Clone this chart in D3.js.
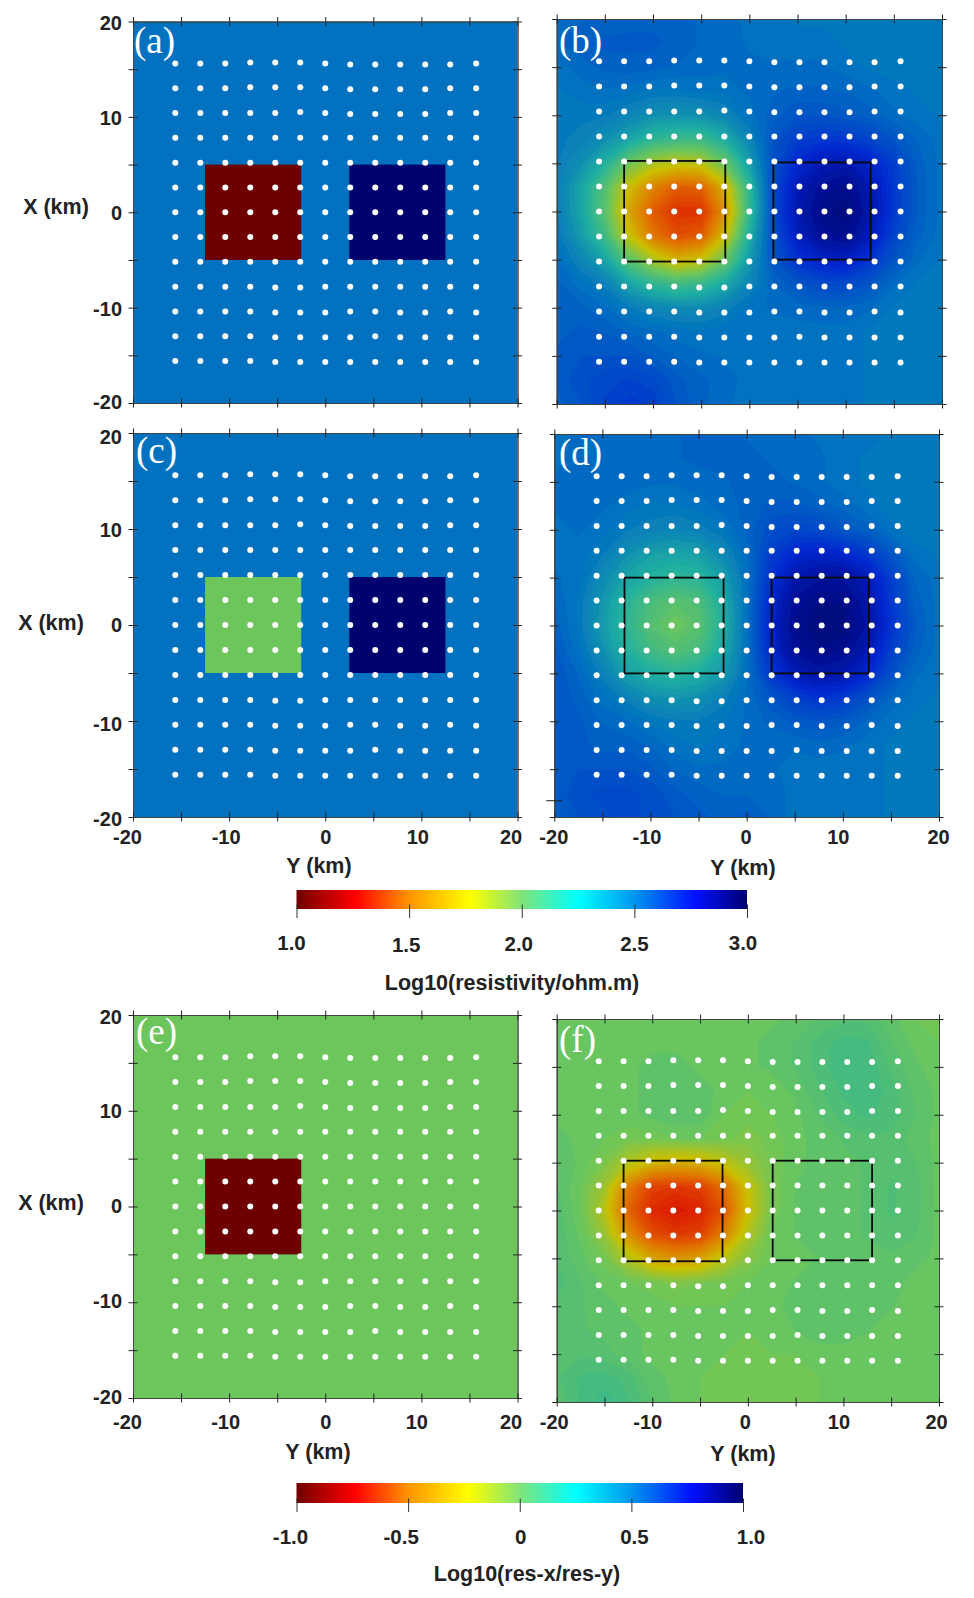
<!DOCTYPE html>
<html>
<head>
<meta charset="utf-8">
<style>
html, body { margin: 0; padding: 0; background: #fff; }
svg { display: block; }
text { font-family: "Liberation Sans", Arial, sans-serif; font-weight: bold; fill: #222; }
</style>
<script src="https://cdn.jsdelivr.net/npm/d3@7"></script>
</head>
<body>
<div id="map"></div>
<script>
// km positions of the ticks and the tick labels
var tickKm = [-20, -15, -10, -5, 0, 5, 10, 15, 20]
var labelKm = [-20, -10, 0, 10, 20]

// site positions, km. one row of X values per row of sites
var siteY = [-15.6, -13, -10.4, -7.8, -5.2, -2.6, 0, 2.6, 5.2, 7.8, 10.4, 13, 15.7]
var siteX = [
  [15.6, 15.6, 15.6, 15.7, 15.7, 15.7, 15.6, 15.5, 15.5, 15.5, 15.5, 15.5, 15.6],
  [13, 13, 13, 13.1, 13.1, 13.1, 13, 12.9, 12.9, 12.9, 12.9, 13, 13],
  [10.4, 10.4, 10.4, 10.4, 10.4, 10.5, 10.4, 10.3, 10.3, 10.3, 10.3, 10.4, 10.4],
  [7.8, 7.8, 7.8, 7.8, 7.8, 7.8, 7.8, 7.8, 7.8, 7.8, 7.8, 7.8, 7.8],
  [5.2, 5.2, 5.2, 5.2, 5.2, 5.2, 5.2, 5.2, 5.2, 5.2, 5.2, 5.2, 5.2],
  [2.6, 2.6, 2.6, 2.6, 2.6, 2.6, 2.6, 2.6, 2.6, 2.6, 2.6, 2.6, 2.6],
  [0, 0, 0, 0, 0, 0, 0, 0, 0, 0, 0, 0, 0],
  [-2.6, -2.6, -2.6, -2.6, -2.6, -2.6, -2.6, -2.6, -2.6, -2.6, -2.6, -2.6, -2.6],
  [-5.2, -5.2, -5.2, -5.2, -5.2, -5.2, -5.2, -5.2, -5.2, -5.2, -5.2, -5.2, -5.2],
  [-7.8, -7.8, -7.8, -7.8, -7.9, -7.9, -7.8, -7.8, -7.8, -7.8, -7.8, -7.8, -7.8],
  [-10.4, -10.4, -10.4, -10.4, -10.5, -10.5, -10.5, -10.4, -10.4, -10.5, -10.5, -10.4, -10.5],
  [-13, -13, -13, -13, -13.1, -13.1, -13.1, -13.1, -13, -13.1, -13.1, -13.1, -13.1],
  [-15.6, -15.6, -15.6, -15.6, -15.7, -15.7, -15.7, -15.7, -15.7, -15.7, -15.7, -15.7, -15.7]
]

// true models: background and the two blocks
var resBackground = 2.5
var ratioBackground = 0
var bodiesA = [{y0: -12.5, y1: -2.5, x0: -5, x1: 5, v: 1}, {y0: 2.5, y1: 12.5, x0: -5, x1: 5, v: 3}]
var bodiesC = [{y0: -12.5, y1: -2.5, x0: -5, x1: 5, v: 2}, {y0: 2.5, y1: 12.5, x0: -5, x1: 5, v: 3}]
var bodiesE = [{y0: -12.5, y1: -2.5, x0: -5, x1: 5, v: -1}]

// outlines drawn on the recovered models
var boxesB = [{y0: -13, y1: -2.5, x0: -5.2, x1: 5.25}, {y0: 2.5, y1: 12.6, x0: -5, x1: 5.1}]
var boxesD = [{y0: -12.7, y1: -2.4, x0: -5, x1: 5}, {y0: 2.6, y1: 12.7, x0: -5, x1: 5}]
var boxesF = [{y0: -13, y1: -2.65, x0: -5.3, x1: 5.2}, {y0: 2.6, y1: 13, x0: -5.2, x1: 5.2}]

// recovered models, every 2.5 km
// rows go from X=20 down to X=-20, columns from Y=-20 to Y=20
var gridB = [
  [2.52,2.54,2.55,2.56,2.56,2.55,2.54,2.52,2.51,2.5,2.48,2.48,2.47,2.47,2.47,2.47,2.47],
  [2.54,2.56,2.58,2.58,2.58,2.56,2.54,2.53,2.51,2.5,2.5,2.5,2.48,2.47,2.47,2.47,2.47],
  [2.5,2.53,2.55,2.56,2.55,2.54,2.53,2.52,2.52,2.52,2.52,2.52,2.5,2.48,2.47,2.47,2.47],
  [2.48,2.5,2.51,2.5,2.48,2.48,2.49,2.5,2.52,2.54,2.55,2.55,2.54,2.52,2.5,2.48,2.47],
  [2.47,2.47,2.46,2.42,2.38,2.37,2.38,2.42,2.5,2.56,2.6,2.6,2.58,2.56,2.52,2.5,2.48],
  [2.47,2.44,2.38,2.3,2.2,2.16,2.16,2.26,2.42,2.6,2.68,2.7,2.7,2.66,2.6,2.54,2.5],
  [2.46,2.38,2.24,2,1.86,1.8,1.82,2.02,2.32,2.62,2.76,2.82,2.84,2.78,2.68,2.56,2.5],
  [2.45,2.3,2.08,1.76,1.56,1.44,1.46,1.72,2.2,2.64,2.82,2.9,2.93,2.84,2.7,2.57,2.5],
  [2.46,2.3,2.06,1.68,1.44,1.32,1.32,1.62,2.18,2.64,2.84,2.93,2.96,2.86,2.7,2.57,2.5],
  [2.48,2.34,2.14,1.78,1.52,1.4,1.44,1.76,2.26,2.62,2.8,2.9,2.92,2.82,2.66,2.55,2.5],
  [2.52,2.42,2.3,2.06,1.86,1.72,1.78,2.02,2.34,2.6,2.72,2.78,2.8,2.72,2.6,2.52,2.48],
  [2.55,2.5,2.44,2.3,2.2,2.14,2.18,2.28,2.42,2.54,2.6,2.64,2.64,2.6,2.52,2.48,2.47],
  [2.56,2.55,2.52,2.46,2.42,2.4,2.4,2.44,2.5,2.52,2.53,2.54,2.54,2.52,2.48,2.47,2.47],
  [2.56,2.58,2.57,2.54,2.52,2.5,2.49,2.5,2.5,2.5,2.5,2.5,2.5,2.48,2.47,2.47,2.47],
  [2.58,2.6,2.6,2.6,2.57,2.54,2.52,2.51,2.5,2.5,2.5,2.5,2.5,2.48,2.47,2.47,2.47],
  [2.58,2.62,2.65,2.66,2.64,2.58,2.55,2.53,2.5,2.5,2.5,2.5,2.5,2.48,2.47,2.47,2.47],
  [2.56,2.6,2.66,2.7,2.68,2.6,2.55,2.52,2.5,2.5,2.5,2.5,2.5,2.48,2.47,2.47,2.47]
]
var gridD = [
  [2.5,2.52,2.53,2.53,2.53,2.54,2.55,2.55,2.54,2.53,2.52,2.51,2.5,2.5,2.48,2.48,2.48],
  [2.5,2.53,2.54,2.54,2.54,2.54,2.55,2.55,2.55,2.54,2.53,2.52,2.5,2.48,2.47,2.47,2.47],
  [2.52,2.54,2.54,2.53,2.52,2.52,2.53,2.54,2.55,2.55,2.54,2.52,2.5,2.48,2.47,2.46,2.47],
  [2.52,2.53,2.52,2.5,2.48,2.48,2.5,2.53,2.55,2.58,2.58,2.56,2.53,2.5,2.47,2.46,2.47],
  [2.5,2.52,2.5,2.46,2.44,2.42,2.44,2.48,2.55,2.62,2.65,2.64,2.6,2.56,2.5,2.47,2.47],
  [2.5,2.5,2.46,2.38,2.32,2.3,2.32,2.4,2.52,2.68,2.76,2.78,2.76,2.7,2.6,2.5,2.48],
  [2.52,2.5,2.4,2.3,2.24,2.2,2.22,2.32,2.5,2.72,2.84,2.88,2.88,2.82,2.68,2.54,2.5],
  [2.54,2.48,2.36,2.22,2.12,2.06,2.1,2.26,2.5,2.76,2.9,2.94,2.94,2.86,2.7,2.56,2.5],
  [2.56,2.48,2.34,2.2,2.08,2,2.06,2.24,2.5,2.78,2.92,2.97,2.96,2.88,2.72,2.58,2.5],
  [2.58,2.5,2.38,2.24,2.14,2.08,2.12,2.28,2.5,2.76,2.9,2.94,2.92,2.84,2.68,2.56,2.5],
  [2.6,2.54,2.44,2.32,2.26,2.22,2.26,2.34,2.5,2.7,2.82,2.86,2.84,2.76,2.62,2.52,2.5],
  [2.6,2.56,2.5,2.44,2.38,2.36,2.38,2.44,2.52,2.6,2.68,2.72,2.7,2.62,2.54,2.5,2.48],
  [2.6,2.58,2.54,2.52,2.48,2.46,2.46,2.48,2.52,2.55,2.58,2.6,2.58,2.54,2.5,2.48,2.48],
  [2.6,2.58,2.56,2.56,2.54,2.5,2.48,2.5,2.52,2.52,2.52,2.53,2.52,2.5,2.48,2.48,2.48],
  [2.58,2.6,2.6,2.6,2.58,2.54,2.52,2.52,2.52,2.52,2.5,2.5,2.5,2.5,2.48,2.48,2.48],
  [2.58,2.62,2.64,2.64,2.62,2.58,2.56,2.54,2.54,2.54,2.5,2.5,2.5,2.5,2.48,2.48,2.48],
  [2.56,2.6,2.62,2.64,2.62,2.6,2.58,2.56,2.58,2.54,2.5,2.5,2.5,2.5,2.48,2.48,2.48]
]
var gridF = [
  [0,0,0,0,0,0,0,0,0.02,0.02,0.04,0.06,0.08,0.08,0.04,0,-0.02],
  [0,0,0,0,0.02,0.02,0,0,0.02,0.04,0.06,0.1,0.13,0.12,0.06,0.02,0],
  [0,0,0,0.02,0.04,0.04,0.02,0.02,0.02,0.04,0.06,0.1,0.14,0.14,0.08,0.04,0],
  [0,0.02,0.02,0.02,0.04,0.05,0.04,0.02,0,0,0.04,0.08,0.12,0.14,0.1,0.05,0.02],
  [0.02,0.02,0.02,0.02,0.04,0.06,0.05,0,-0.02,0,0.02,0.06,0.1,0.12,0.1,0.06,0.02],
  [0.04,0.02,0,-0.02,-0.02,0,0,-0.02,-0.04,-0.02,0.02,0.04,0.06,0.08,0.08,0.04,0.02],
  [0.06,0.02,-0.04,-0.16,-0.26,-0.3,-0.28,-0.2,-0.1,-0.02,0.02,0.04,0.05,0.06,0.08,0.06,0.02],
  [0.06,0,-0.12,-0.46,-0.64,-0.66,-0.64,-0.5,-0.22,-0.02,0.03,0.05,0.05,0.06,0.09,0.07,0.02],
  [0.08,0,-0.18,-0.54,-0.7,-0.76,-0.72,-0.58,-0.24,-0.02,0.03,0.05,0.05,0.06,0.09,0.07,0.02],
  [0.08,0.02,-0.1,-0.4,-0.6,-0.66,-0.64,-0.44,-0.16,0,0.03,0.05,0.05,0.06,0.08,0.06,0.02],
  [0.08,0.04,-0.02,-0.16,-0.32,-0.38,-0.34,-0.18,-0.06,0,0.02,0.03,0.04,0.05,0.05,0.04,0.02],
  [0.1,0.06,0.02,0,-0.02,-0.04,-0.03,-0.02,0,0.02,0.03,0.03,0.04,0.04,0.04,0.02,0.02],
  [0.08,0.06,0.04,0.02,0.02,0,0,0,0,0.02,0.04,0.05,0.05,0.04,0.03,0.02,0],
  [0.07,0.06,0.05,0.04,0.02,0,0,0,0,0,0.03,0.04,0.04,0.03,0.02,0,0],
  [0.08,0.08,0.07,0.04,0.02,0,0,0,-0.02,0,0,0.02,0.02,0.02,0,0,0],
  [0.08,0.12,0.13,0.1,0.04,0.02,0,-0.02,-0.02,-0.02,-0.02,0,0,0,0,0,0],
  [0.06,0.12,0.16,0.12,0.06,0.02,0,-0.02,-0.02,-0.02,-0.02,0,0,0,0,0,0]
]

// colour stops, position on the 0..1 colour range
var fieldStops = [0, 0.125, 0.25, 0.385, 0.5, 0.625, 0.75, 0.875, 1]
var fieldColors = ["#6e0000", "#dc1a00", "#e27000", "#ccc000", "#6cc65c", "#20b0a0", "#0272c0", "#0028d0", "#00006e"]
var barStops = [0, 0.13, 0.25, 0.385, 0.5, 0.625, 0.75, 0.885, 1]
var barColors = ["#700000", "#ff0000", "#ff9400", "#ffff00", "#80e478", "#00ffff", "#0096ee", "#0010ff", "#000070"]

var resTicks = [1, 1.5, 2, 2.5, 3]
var resTickLabels = ["1.0", "1.5", "2.0", "2.5", "3.0"]
var ratioTicks = [-1, -0.5, 0, 0.5, 1]
var ratioTickLabels = ["-1.0", "-0.5", "0", "0.5", "1.0"]

var svg = d3.select("#map").append("svg")
    .attr("width", 974)
    .attr("height", 1598)

var defs = svg.append("defs")
defs.append("filter").attr("id", "soft")
    .append("feGaussianBlur").attr("stdDeviation", 0.7)
defs.append("filter").attr("id", "softDot")
    .append("feGaussianBlur").attr("stdDeviation", 0.4)

var colorRange = d3.scaleLinear().domain(fieldStops).range(fieldColors)
var resPos = d3.scaleLinear().domain([1, 3]).range([0, 1])
var ratioPos = d3.scaleLinear().domain([-1, 1]).range([0, 1])

var panels = [
  {id: "a", name: "(a)", x0: 133, x1: 517.5, y0: 21.5, y1: 403, pos: resPos, bg: resBackground, bodies: bodiesA,
    left: {xkm: 56, ykm: 206, shift: [-1, 1, 1, 1, 2]}, nameX: 134, nameY: 53},
  {id: "b", name: "(b)", x0: 556.7, x1: 942, y0: 19, y1: 404, pos: resPos, grid: gridB, boxes: boxesB,
    nameX: 559, nameY: 53},
  {id: "c", name: "(c)", x0: 133, x1: 517.5, y0: 433, y1: 817, pos: resPos, bg: resBackground, bodies: bodiesC,
    left: {xkm: 51, ykm: 622, shift: [2, 3, 0, 1, 4]}, nameX: 136, nameY: 463,
    bottom: {shift: [-6, -3.5, 0, -4, -7], labelY: 838, titleX: 319, titleY: 865}},
  {id: "d", name: "(d)", x0: 554.3, x1: 939, y0: 434, y1: 817, pos: resPos, grid: gridD, boxes: boxesD,
    nameX: 559, nameY: 465, stray: true,
    bottom: {shift: [-1, -4, -1, -5, -1], labelY: 838, titleX: 743, titleY: 867}},
  {id: "e", name: "(e)", x0: 133, x1: 517.5, y0: 1015, y1: 1398, pos: ratioPos, bg: ratioBackground, bodies: bodiesE,
    left: {xkm: 51, ykm: 1202, shift: [-1, -1, 0, 0, 2]}, nameX: 136, nameY: 1044,
    bottom: {shift: [-6, -4, 0, -5, -7], labelY: 1423, titleX: 318, titleY: 1451}},
  {id: "f", name: "(f)", x0: 556.7, x1: 939, y0: 1019, y1: 1402, pos: ratioPos, grid: gridF, boxes: boxesF,
    nameX: 559, nameY: 1052,
    bottom: {shift: [-3, -5, -3, -5, -3], labelY: 1423, titleX: 743, titleY: 1453}}
]

panels.forEach(function(p) {
  var x = d3.scaleLinear().domain([-20, 20]).range([p.x0, p.x1])
  var y = d3.scaleLinear().domain([-20, 20]).range([p.y1, p.y0])
  var g = svg.append("g").attr("class", "panel-" + p.id)

  defs.append("clipPath").attr("id", "clip-" + p.id)
    .append("rect")
    .attr("x", p.x0).attr("y", p.y0)
    .attr("width", p.x1 - p.x0).attr("height", p.y1 - p.y0)

  var field = g.append("g").attr("clip-path", "url(#clip-" + p.id + ")")

  if (p.grid) {
    drawField(field, p, x, y)
  } else {
    field.append("rect")
      .attr("x", p.x0).attr("y", p.y0)
      .attr("width", p.x1 - p.x0).attr("height", p.y1 - p.y0)
      .attr("fill", colorRange(p.pos(p.bg)))
    field.selectAll("rect.body").data(p.bodies).enter().append("rect")
      .attr("class", "body")
      .attr("x", function(d) { return x(d.y0) })
      .attr("y", function(d) { return y(d.x1) })
      .attr("width", function(d) { return x(d.y1) - x(d.y0) })
      .attr("height", function(d) { return y(d.x0) - y(d.x1) })
      .attr("fill", function(d) { return colorRange(p.pos(d.v)) })
  }

  // black outlines go under the sites so the dots cut them into dashes
  if (p.boxes) {
    g.selectAll("rect.box").data(p.boxes).enter().append("rect")
      .attr("class", "box")
      .attr("x", function(d) { return x(d.y0) })
      .attr("y", function(d) { return y(d.x1) })
      .attr("width", function(d) { return x(d.y1) - x(d.y0) })
      .attr("height", function(d) { return y(d.x0) - y(d.x1) })
      .attr("fill", "none")
      .attr("stroke", "#0a0a0a")
      .attr("stroke-width", 1.8)
  }

  var sites = []
  siteX.forEach(function(row) {
    row.forEach(function(v, i) { sites.push([siteY[i], v]) })
  })
  g.append("g").attr("filter", "url(#softDot)")
    .selectAll("circle").data(sites).enter().append("circle")
    .attr("cx", function(d) { return x(d[0]) })
    .attr("cy", function(d) { return y(d[1]) })
    .attr("r", 3)
    .attr("fill", "#fff")

  drawFrame(g, p, x, y)

  g.append("text")
    .attr("x", p.nameX).attr("y", p.nameY)
    .style("font-family", "'Liberation Serif', serif")
    .style("font-weight", "normal")
    .style("font-size", "37px")
    .style("fill", "#fff")
    .text(p.name)

  if (p.left) {
    var la = d3.axisLeft(y).tickValues(labelKm).tickSize(0).tickPadding(11)
      .tickFormat(function(d) { return String(d) })
    g.append("g").attr("transform", "translate(" + p.x0 + ",0)").call(la)
      .call(function(s) { s.select(".domain").remove() })
      .selectAll("text")
      .style("font-size", "20px")
      .attr("y", function(d, i) { return p.left.shift[i] })
    g.append("text")
      .attr("x", p.left.xkm).attr("y", p.left.ykm)
      .attr("text-anchor", "middle").attr("dy", "0.35em")
      .style("font-size", "21.5px")
      .text("X (km)")
  }

  if (p.bottom) {
    var ba = d3.axisBottom(x).tickValues(labelKm).tickSize(0).tickPadding(0)
      .tickFormat(function(d) { return String(d) })
    g.append("g").attr("transform", "translate(0," + (p.bottom.labelY - 8) + ")").call(ba)
      .call(function(s) { s.select(".domain").remove() })
      .selectAll("text")
      .style("font-size", "20px")
      .attr("dx", function(d, i) { return p.bottom.shift[i] })
    g.append("text")
      .attr("x", p.bottom.titleX).attr("y", p.bottom.titleY)
      .attr("text-anchor", "middle").attr("dy", "0.35em")
      .style("font-size", "21.5px")
      .text("Y (km)")
  }
})

// filled contours of the grid, one layer per threshold
function drawField(field, p, x, y) {
  var values = []
  p.grid.forEach(function(row) { row.forEach(function(v) { values.push(v) }) })
  var step = (p.pos.domain()[1] - p.pos.domain()[0]) / 70
  var thresholds = d3.range(p.pos.domain()[0], p.pos.domain()[1] + step / 2, step)
  var contours = d3.contours().size([17, 17]).thresholds(thresholds)(values)

  // contour coordinates have the grid nodes at i + 0.5
  var gx = d3.scaleLinear().domain([0.5, 16.5]).range([x(-20), x(20)])
  var gy = d3.scaleLinear().domain([0.5, 16.5]).range([y(20), y(-20)])
  var path = d3.geoPath(d3.geoTransform({
    point: function(a, b) { this.stream.point(gx(a), gy(b)) }
  }))

  var layer = field.append("g").attr("filter", "url(#soft)")
  layer.append("rect")
    .attr("x", p.x0 - 8).attr("y", p.y0 - 8)
    .attr("width", p.x1 - p.x0 + 16).attr("height", p.y1 - p.y0 + 16)
    .attr("fill", colorRange(p.pos(d3.min(values))))
  layer.selectAll("path").data(contours).enter().append("path")
    .attr("d", path)
    .attr("fill", function(d) { return colorRange(p.pos(d.value + step / 2)) })
}

// frame and crossing ticks on all four sides
function drawFrame(g, p, x, y) {
  var sides = [
    [d3.axisLeft(y), p.x0, 0], [d3.axisRight(y), p.x0, 0],
    [d3.axisLeft(y), p.x1, 0], [d3.axisRight(y), p.x1, 0],
    [d3.axisTop(x), 0, p.y0], [d3.axisBottom(x), 0, p.y0],
    [d3.axisTop(x), 0, p.y1], [d3.axisBottom(x), 0, p.y1]
  ]
  sides.forEach(function(s) {
    var ag = g.append("g")
      .attr("transform", "translate(" + s[1] + "," + s[2] + ")")
      .call(s[0].tickValues(tickKm).tickSize(4.5).tickSizeOuter(0).tickFormat(""))
    ag.select(".domain").attr("stroke", "#444").attr("stroke-width", 1)
    ag.selectAll(".tick line").attr("stroke", "#222").attr("stroke-width", 1)
  })
  if (p.stray) {
    // the lone extra tick left of panel d
    g.append("line")
      .attr("x1", p.x0 - 8).attr("x2", p.x0 + 8)
      .attr("y1", y(-18.3)).attr("y2", y(-18.3))
      .attr("stroke", "#222").attr("stroke-width", 1)
  }
}

// colour bars
var bars = [
  {id: "bar1", domain: [1, 3], ticks: resTicks, labels: resTickLabels, x0: 296.5, x1: 747, y0: 890, y1: 909,
    labelY: [943, 945, 944, 944, 943], shift: [-5, -3, -3, 0, -4], title: "Log10(resistivity/ohm.m)", titleX: 512, titleY: 982},
  {id: "bar2", domain: [-1, 1], ticks: ratioTicks, labels: ratioTickLabels, x0: 296.5, x1: 743, y0: 1483, y1: 1503,
    labelY: [1537, 1537, 1537, 1537, 1537], shift: [-6, -7, 1, 3, 8], title: "Log10(res-x/res-y)", titleX: 527, titleY: 1573}
]

bars.forEach(function(b) {
  var grad = defs.append("linearGradient").attr("id", b.id)
  barStops.forEach(function(s, i) {
    grad.append("stop").attr("offset", s).attr("stop-color", barColors[i])
  })
  svg.append("rect")
    .attr("x", b.x0).attr("y", b.y0)
    .attr("width", b.x1 - b.x0).attr("height", b.y1 - b.y0)
    .attr("fill", "url(#" + b.id + ")")

  var s = d3.scaleLinear().domain(b.domain).range([b.x0, b.x1])
  var ag = svg.append("g")
    .attr("transform", "translate(0," + b.y1 + ")")
    .call(d3.axisBottom(s).tickValues(b.ticks).tickSizeOuter(0).tickFormat(""))
  ag.select(".domain").remove()
  ag.selectAll(".tick line")
    .attr("y1", -4.5).attr("y2", 9)
    .attr("stroke", "#333")

  svg.selectAll("text." + b.id).data(b.ticks).enter().append("text")
    .attr("class", b.id)
    .attr("x", function(d, i) { return s(d) + b.shift[i] })
    .attr("y", function(d, i) { return b.labelY[i] })
    .attr("dy", "0.35em")
    .attr("text-anchor", "middle")
    .style("font-size", "20.5px")
    .text(function(d, i) { return b.labels[i] })

  svg.append("text")
    .attr("x", b.titleX).attr("y", b.titleY)
    .attr("dy", "0.35em")
    .attr("text-anchor", "middle")
    .style("font-size", "21.5px")
    .text(b.title)
})
</script>
</body>
</html>
